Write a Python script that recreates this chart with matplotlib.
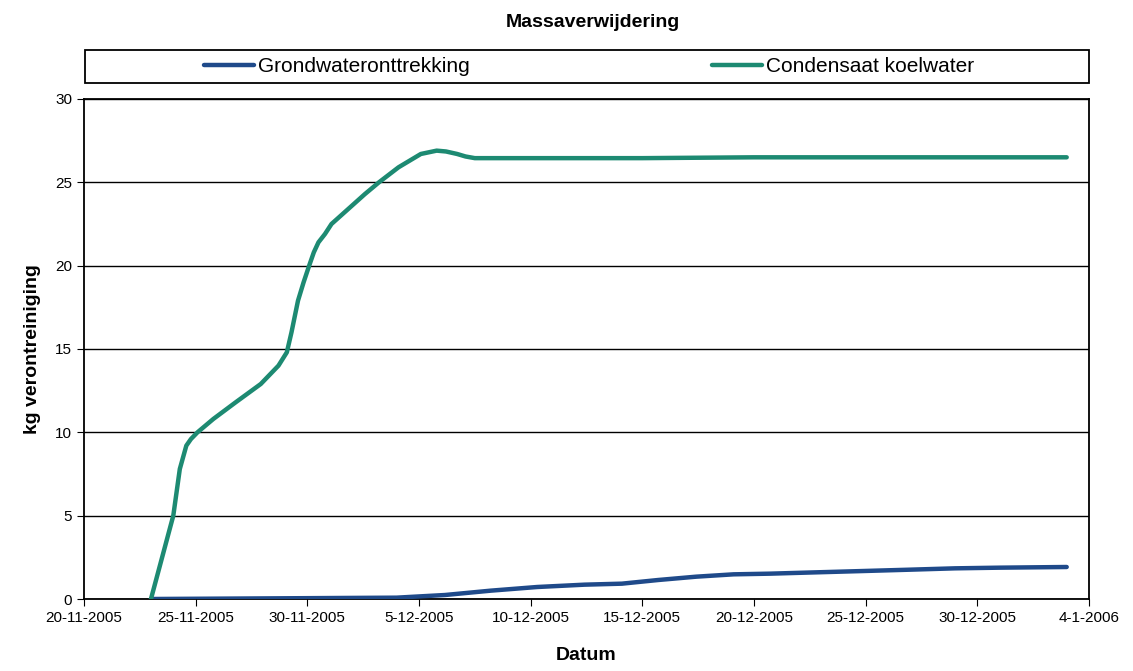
#!/usr/bin/env python
# coding:utf-8

"""
massaverwijdering.py
"""

import matplotlib
matplotlib.use("Agg")
import matplotlib.pyplot as plt
import matplotlib.dates as mdates
from matplotlib.patches import Rectangle
import pandas as pd


# Condensaat koelwater (kg)
green_dates = ["2005-11-23 00:00", "2005-11-24 00:00", "2005-11-24 07:00",
               "2005-11-24 11:00", "2005-11-24 14:00", "2005-11-24 19:00",
               "2005-11-25 02:00", "2005-11-25 19:00", "2005-11-26 19:00",
               "2005-11-27 22:00", "2005-11-28 17:00", "2005-11-29 02:00",
               "2005-11-29 07:00", "2005-11-29 14:00", "2005-11-29 20:00",
               "2005-11-30 02:00", "2005-11-30 07:00", "2005-11-30 12:00",
               "2005-11-30 19:00", "2005-12-01 02:00", "2005-12-01 14:00",
               "2005-12-02 02:00", "2005-12-02 14:00", "2005-12-03 05:00",
               "2005-12-04 02:00", "2005-12-04 14:00", "2005-12-05 02:00",
               "2005-12-05 19:00", "2005-12-06 05:00", "2005-12-06 17:00",
               "2005-12-07 02:00", "2005-12-07 12:00", "2005-12-10 00:00",
               "2005-12-15 00:00", "2005-12-20 00:00", "2005-12-25 00:00",
               "2005-12-30 00:00", "2006-01-03 00:00"]
green_vals = [0.0, 5.0, 7.8, 8.6, 9.2, 9.6, 10.0, 10.8, 11.8, 12.9, 14.0,
              14.8, 16.0, 17.9, 19.0, 20.0, 20.8, 21.4, 21.9, 22.5, 23.1,
              23.7, 24.3, 25.0, 25.9, 26.3, 26.7, 26.9, 26.85, 26.7, 26.55,
              26.45, 26.45, 26.45, 26.5, 26.5, 26.5, 26.5]

# Grondwateronttrekking (kg)
blue_dates = ["2005-11-23 00:00", "2005-11-30 00:00", "2005-12-04 00:00",
              "2005-12-06 04:00", "2005-12-08 05:00", "2005-12-10 07:00",
              "2005-12-12 10:00", "2005-12-14 02:00", "2005-12-15 17:00",
              "2005-12-17 10:00", "2005-12-19 02:00", "2005-12-20 17:00",
              "2005-12-22 19:00", "2005-12-24 22:00", "2005-12-27 00:00",
              "2005-12-29 00:00", "2005-12-31 00:00", "2006-01-03 00:00"]
blue_vals = [0.0, 0.05, 0.08, 0.24, 0.5, 0.72, 0.86, 0.92, 1.14, 1.34, 1.48,
             1.52, 1.6, 1.68, 1.76, 1.84, 1.88, 1.92]

y_ticks = [0, 5, 10, 15, 20, 25, 30]
x_ticks = ["2005-11-20", "2005-11-25", "2005-11-30", "2005-12-05",
           "2005-12-10", "2005-12-15", "2005-12-20", "2005-12-25",
           "2005-12-30", "2006-01-04"]

BLUE = "#1f4a8a"
GREEN = "#1d8a72"


def main():
    plt.rcParams["font.family"] = ["Liberation Sans", "DejaVu Sans"]

    fig = plt.figure(figsize=(11.33, 6.71), dpi=100)
    ax = fig.add_axes([0.0741, 0.1073, 0.8871, 0.7452])

    ax.plot(pd.to_datetime(blue_dates), blue_vals, color=BLUE, lw=3.2,
            solid_capstyle="round", solid_joinstyle="round",
            label="Grondwateronttrekking", zorder=3)
    ax.plot(pd.to_datetime(green_dates), green_vals, color=GREEN, lw=3.2,
            solid_capstyle="round", solid_joinstyle="round",
            label="Condensaat koelwater", zorder=4)

    xt = pd.to_datetime(x_ticks)
    ax.set_xlim(xt[0], xt[-1])
    ax.set_xticks(xt)
    ax.xaxis.set_major_formatter(
        plt.FuncFormatter(lambda v, p: "{d.day}-{d.month}-{d.year}".format(
            d=mdates.num2date(v))))
    ax.set_ylim(0, 30)
    ax.set_yticks(y_ticks)
    ax.yaxis.grid(True, color="black", lw=1.0)
    ax.set_axisbelow(True)
    ax.tick_params(labelsize=11, length=5, direction="out", colors="black")
    for s in ax.spines.values():
        s.set_linewidth(1.3)
        s.set_color("black")

    ax.set_ylabel("kg verontreiniging", fontsize=14, fontweight="bold",
                  labelpad=10)
    ax.set_xlabel("Datum", fontsize=14, fontweight="bold", labelpad=16)
    fig.text(0.523, 0.967, "Massaverwijdering", ha="center", va="center",
             fontsize=14, fontweight="bold")

    # legend box above the plot
    fig.patches.append(Rectangle((0.075, 0.876), 0.886, 0.049,
                                 transform=fig.transFigure, fill=False,
                                 edgecolor="black", lw=1.3))
    handles, labels = ax.get_legend_handles_labels()
    fig.legend(handles, labels, loc="center", bbox_to_anchor=(0.52, 0.9005),
               ncol=2, frameon=False, fontsize=15, handlelength=2.4,
               handletextpad=0.2, columnspacing=11.6)

    fig.savefig("out.png", dpi=100)


if __name__ == "__main__":
    main()
